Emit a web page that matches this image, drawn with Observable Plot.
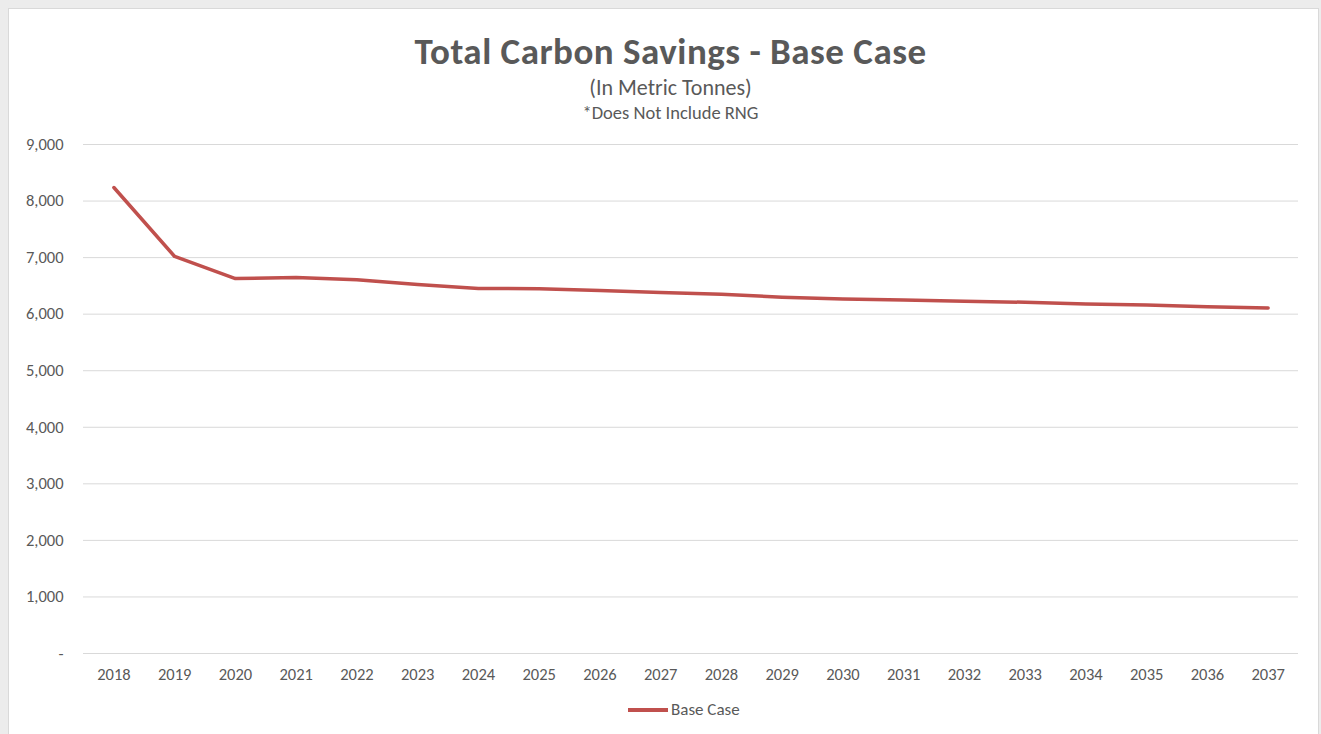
<!DOCTYPE html>
<html>
<head>
<meta charset="utf-8">
<script src="https://cdn.jsdelivr.net/npm/d3@7"></script>
<script src="https://cdn.jsdelivr.net/npm/@observablehq/plot@0.6"></script>
<style>
  html, body { margin: 0; padding: 0; background: #ececec; }
  #frame { position: absolute; left: 8px; top: 8px; width: 1311px; height: 740px; background: #fff; border: 1px solid #d9d9d9; box-sizing: border-box; }
  #wrap { position: absolute; left: 0; top: 0; width: 1321px; height: 734px; font-family: Carlito, Lato, sans-serif; color: #595959; }
  .t { position: absolute; left: 10px; width: 1321px; text-align: center; line-height: 1.2; }
  #title { top: 30px; font-size: 37px; font-weight: bold; letter-spacing: 0.5px; }
  #sub1 { top: 75px; font-size: 22px; }
  #sub2 { top: 102px; font-size: 18.5px; }
  #chart { position: absolute; left: 0; top: 130px; }
  #legend { position: absolute; top: 699px; left: 628px; font-size: 17px; line-height: 22px; display: flex; align-items: center; }
  #legend span.sw { display: inline-block; width: 40px; height: 4px; background: #c0504d; margin-right: 3px; }
</style>
</head>
<body>
<div id="frame"></div>
<div id="wrap">
  <div class="t" id="title">Total Carbon Savings - Base Case</div>
  <div class="t" id="sub1">(In Metric Tonnes)</div>
  <div class="t" id="sub2">*Does Not Include RNG</div>
  <div id="chart"></div>
  <div id="legend"><span class="sw"></span><span id="legtext">Base Case</span></div>
</div>
<script>
const years = ["2018","2019","2020","2021","2022","2023","2024","2025","2026","2027","2028","2029","2030","2031","2032","2033","2034","2035","2036","2037"];
const baseCase = [8240,7020,6630,6650,6610,6525,6455,6450,6420,6385,6350,6300,6270,6250,6230,6210,6180,6160,6130,6110];
const yTicks = [0,1000,2000,3000,4000,5000,6000,7000,8000,9000];
const seriesName = "Base Case";

const data = years.map((y, i) => ({year: y, value: baseCase[i], series: seriesName}));

const chart = Plot.plot({
  width: 1321,
  height: 560,
  marginLeft: 83,
  marginRight: 23,
  marginTop: 14,
  marginBottom: 37,
  style: {fontFamily: "Carlito, Lato, sans-serif", fontSize: "16.5px", color: "#595959", background: "transparent"},
  x: {type: "point", domain: years, padding: 0.5, round: false, label: null},
  y: {domain: [0, 9000], label: null},
  marks: [
    Plot.gridY(yTicks, {stroke: "#d9d9d9", strokeOpacity: 1, strokeWidth: 1}),
    Plot.axisY(yTicks, {tickSize: 0, tickPadding: 20, label: null, fontSize: 16.5,
      tickFormat: d => d === 0 ? "-" : d3.format(",")(d)}),
    Plot.axisX({tickSize: 0, tickPadding: 15, label: null, fontSize: 16.5}),
    Plot.line(data, {x: "year", y: "value", stroke: "#c0504d", strokeWidth: 3.5, strokeLinejoin: "round", strokeLinecap: "round"})
  ]
});
document.getElementById("chart").appendChild(chart);
</script>
</body>
</html>
